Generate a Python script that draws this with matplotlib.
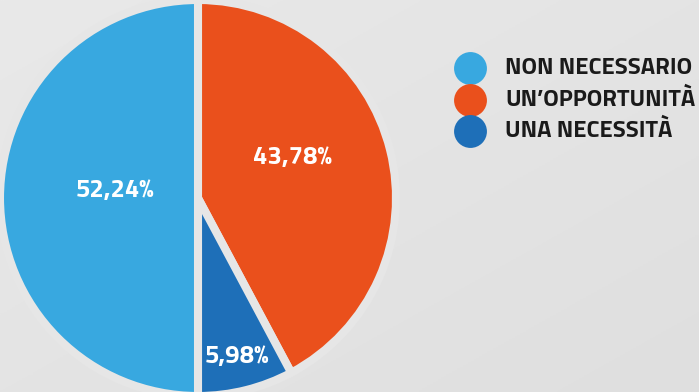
import numpy as np
import matplotlib.pyplot as plt
from matplotlib.colors import LinearSegmentedColormap

categorie = ['NON NECESSARIO', 'UN\u2019OPPORTUNITÀ', 'UNA NECESSITÀ']
valori = [52.24, 43.78, 5.98]
etichette = ['52,24%', '43,78%', '5,98%']
# ampiezze degli spicchi come appaiono nel grafico originale (%)
ampiezze = [50.0, 42.2, 7.8]
colori = ['#38a8e0', '#ea501c', '#1e6fb8']

plt.rcParams['font.family'] = ['Titillium Web', 'DejaVu Sans']

fig = plt.figure(figsize=(6.99, 3.92), dpi=100)
bg = fig.add_axes([0, 0, 1, 1])
grad = np.linspace(0, 1, 256)
gx, gy = np.meshgrid(grad, grad)
bg.imshow(0.5 * (gx + gy), cmap=LinearSegmentedColormap.from_list('g', ['#e9e9e9', '#dfdfdf']),
          extent=[0, 1, 0, 1], aspect='auto', origin='upper')
bg.axis('off')

ax = fig.add_axes([0, 0, 1, 1])
ax.patch.set_alpha(0)
# dalle 12 in senso orario: arancio, blu scuro, azzurro
ordine = [1, 2, 0]
ax.pie([ampiezze[i] for i in ordine], colors=[colori[i] for i in ordine],
       startangle=90, counterclock=False, center=(198, 194), radius=198,
       wedgeprops=dict(edgecolor='#e6e6e6', linewidth=5.8))
ax.set_xlim(0, 699)
ax.set_ylim(0, 392)
ax.set_aspect('equal')
ax.axis('off')

pos = [(115, 202), (292, 235), (237, 35)]
for (x, y), t in zip(pos, etichette):
    ax.text(x, y, t, color='white', fontsize=18.5, fontweight='bold',
            ha='center', va='center')

for i, (c, col) in enumerate(zip(categorie, colori)):
    y = 324 - i * 31.5
    ax.scatter([470], [y], s=560, color=col, zorder=3, linewidths=0)
    ax.text(505, y, c, color='#1a1a1a', fontsize=17.2, fontweight='bold',
            ha='left', va='center')

fig.savefig('out.png', dpi=100)
